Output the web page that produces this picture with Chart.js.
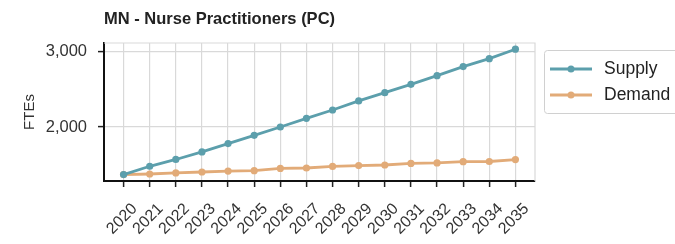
<!DOCTYPE html>
<html><head><meta charset="utf-8">
<script src="https://cdn.jsdelivr.net/npm/chart.js@4.4.1/dist/chart.umd.min.js"></script>
<style>html,body{margin:0;padding:0;background:#fff;}#wrap{width:675px;height:244px;}</style>
</head><body><div id="wrap"><canvas id="c" width="675" height="244"></canvas></div>
<script>
const title = "MN - Nurse Practitioners (PC)";
const yAxisLabel = "FTEs";
const years = [2020,2021,2022,2023,2024,2025,2026,2027,2028,2029,2030,2031,2032,2033,2034,2035];
const supply = [1370,1480,1570,1670,1780,1890,2000,2115,2225,2345,2455,2565,2680,2800,2905,3030];
const demand = [1370,1378,1392,1404,1416,1422,1452,1457,1478,1489,1497,1518,1524,1541,1543,1568];
const yTicks = [2000,3000];
const seriesNames = ["Supply","Demand"];
const colors = ["#5c9fac","#e2ab78"];

const FONT = "'Liberation Sans', Arial, sans-serif";

const framePlugin = {
  id:'frame',
  beforeDatasetsDraw(chart){
    const {ctx, chartArea:a} = chart;
    ctx.save();
    ctx.strokeStyle = '#d9d9d9'; ctx.lineWidth = 1.2;
    ctx.beginPath();
    ctx.moveTo(a.left, a.top); ctx.lineTo(a.right, a.top); ctx.lineTo(a.right, a.bottom);
    ctx.stroke();
    ctx.restore();
  },
  afterDraw(chart){
    const {ctx, chartArea:a} = chart;
    ctx.save();
    ctx.fillStyle = '#222';
    ctx.font = "bold 16.5px " + FONT;
    ctx.textBaseline = 'middle'; ctx.textAlign = 'left';
    ctx.fillText(title, a.left, 19);
    // x tick labels (rotated 45°, centered under each tick)
    const xs = chart.scales.x;
    ctx.fillStyle = '#333'; ctx.font = "16px " + FONT;
    ctx.textAlign = 'center'; ctx.textBaseline = 'middle';
    years.forEach(yr => {
      const px = xs.getPixelForValue(yr);
      ctx.save();
      ctx.translate(px - 1.5, a.bottom + 38);
      ctx.rotate(-Math.PI/4);
      ctx.fillText(String(yr), 0, 0);
      ctx.restore();
    });
    // legend
    const bx = 544, by = 50, bw = 150, bh = 63;
    ctx.fillStyle = '#fff'; ctx.strokeStyle = '#d0d0d0'; ctx.lineWidth = 1;
    ctx.beginPath();
    if (ctx.roundRect) ctx.roundRect(bx+0.5, by+0.5, bw, bh, 3); else ctx.rect(bx+0.5, by+0.5, bw, bh);
    ctx.fill(); ctx.stroke();
    chart.data.datasets.forEach((ds, i) => {
      const y = 69 + i*26;
      ctx.strokeStyle = ds.borderColor; ctx.lineWidth = 2.8;
      ctx.beginPath(); ctx.moveTo(550, y); ctx.lineTo(592, y); ctx.stroke();
      ctx.fillStyle = ds.borderColor;
      ctx.beginPath(); ctx.arc(571, y, 3.5, 0, Math.PI*2); ctx.fill();
      ctx.fillStyle = '#222'; ctx.font = "17.5px " + FONT;
      ctx.textAlign = 'left'; ctx.textBaseline = 'middle';
      ctx.fillText(ds.label, 604, y);
    });
    ctx.restore();
  }
};

const datasets = [supply, demand].map((arr, i) => ({
  label: seriesNames[i],
  data: years.map((yr, k) => ({x: yr, y: arr[k]})),
  borderColor: colors[i], backgroundColor: colors[i],
  borderWidth: 2.8, pointRadius: 3.6, pointHoverRadius: 3.6,
  pointBorderWidth: 0, tension: 0
}));

new Chart(document.getElementById('c'), {
  type: 'line',
  data: { datasets },
  options: {
    responsive: false, animation: false,
    layout: { padding: { top: 43, right: 140, left: 0, bottom: 0 } },
    plugins: { legend: {display:false}, title:{display:false}, tooltip:{enabled:false} },
    scales: {
      x: {
        type: 'linear', min: 2019.25, max: 2035.75,
        afterBuildTicks(s){ s.ticks = years.map(v => ({value: v})); },
        afterFit(s){ s.height = 63; },
        grid: { color: '#d9d9d9', lineWidth: 1.2, tickLength: 6, tickColor: '#222', tickWidth: 1.5 },
        border: { color: '#111', width: 2 },
        ticks: { display: false }
      },
      y: {
        min: 1285, max: 3112,
        afterBuildTicks(s){ s.ticks = yTicks.map(v => ({value: v})); },
        afterFit(s){ s.width = 104; },
        grid: { color: '#d9d9d9', lineWidth: 1.2, tickLength: 6, tickColor: '#222', tickWidth: 1.5 },
        border: { color: '#111', width: 2 },
        ticks: { color: '#333', font: {family: FONT, size: 16.5}, padding: 11,
          callback: v => v.toLocaleString('en-US') },
        title: { display: true, text: yAxisLabel, color: '#333', font: {family: FONT, size: 15}, padding: {top: 21, bottom: 0} }
      }
    }
  },
  plugins: [framePlugin]
});
</script></body></html>
